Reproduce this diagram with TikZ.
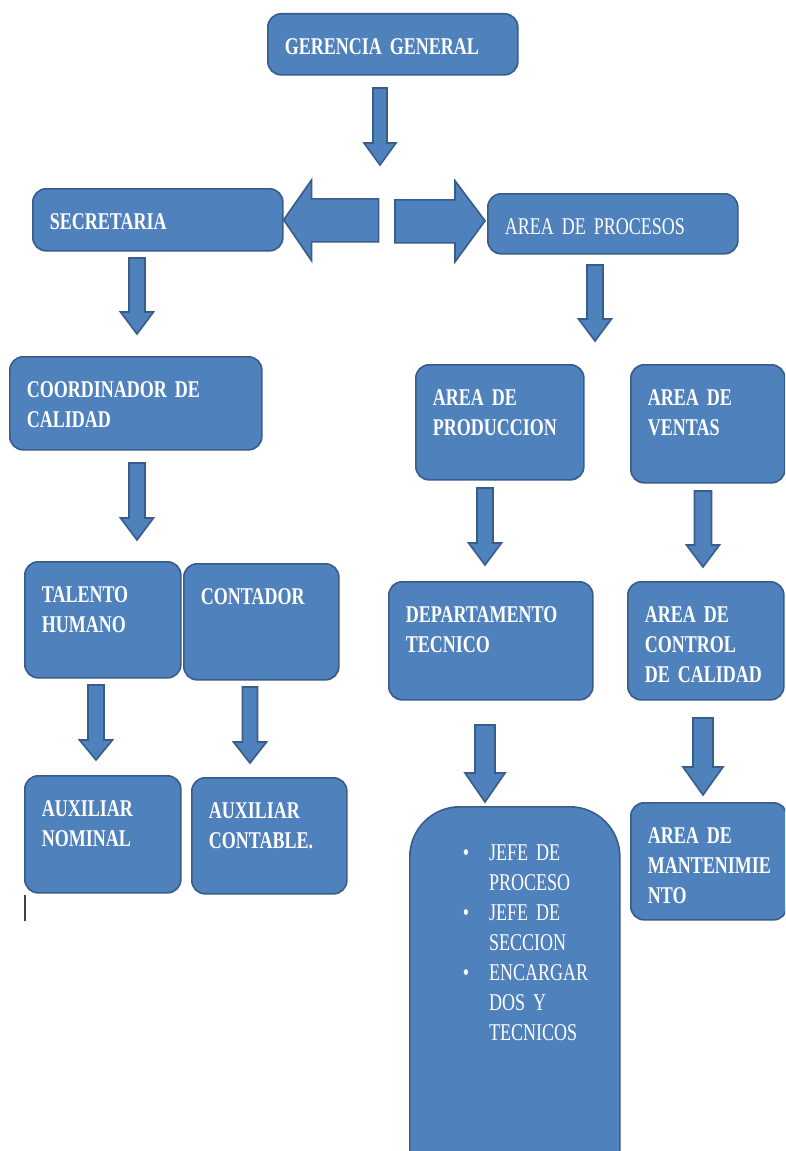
\documentclass[tikz,border=0pt]{standalone}
\usepackage{fontspec}
\setmainfont{Liberation Serif}[FakeStretch=0.75]
\usetikzlibrary{positioning}
\definecolor{BoxBlue}{HTML}{4F81BD}
\definecolor{BoxLine}{HTML}{385D8A}
\newcommand\orgfont{\fontsize{20.5pt}{25.6pt}\selectfont\spaceskip=0.19em plus 0.05em}
\tikzset{
  orgbox/.style={draw=BoxLine, line width=1.4pt, fill=BoxBlue, rounded corners=0.4cm, anchor=north west, text=white, align=left, inner xsep=0.51cm, inner ysep=0pt, text height=1.23cm, font=\orgfont\bfseries},
  blockarrow/.style={draw=BoxLine, line width=1.4pt, fill=BoxBlue, line join=miter}
}
\begin{document}
\begin{tikzpicture}[x=0.03cm,y=-0.03cm]
\useasboundingbox (0,0) rectangle (785,1151);
\fill[white] (0,0) rectangle (785,1151);
\clip (0,0) rectangle (785,1151);

% top level
\node[orgbox, text width=6.48cm, text depth=0.60cm] (gerencia) at (267,13) {GERENCIA GENERAL};
\node[orgbox, text width=6.48cm, text depth=0.63cm] (secretaria) at (32,188) {SECRETARIA};
\node[orgbox, text width=6.48cm, text depth=0.57cm, font=\orgfont\mdseries] (procesos) at (487,193) {AREA DE PROCESOS};

% left branch
\node[orgbox, text width=6.54cm, text depth=1.56cm] (coordinador) at (9,356) {COORDINADOR DE\\CALIDAD};
\node[orgbox, text width=3.66cm, text depth=2.25cm] (talento) at (24,561) {TALENTO\\HUMANO};
\node[orgbox, text width=3.63cm, text depth=2.25cm] (contador) at (183,563) {CONTADOR};
\node[orgbox, text width=3.66cm, text depth=2.28cm] (auxnominal) at (24,775) {AUXILIAR\\NOMINAL};
\node[orgbox, text width=3.63cm, text depth=2.25cm] (auxcontable) at (191,777) {AUXILIAR\\CONTABLE.};

% right branch
\node[orgbox, text width=4.02cm, text depth=2.22cm] (produccion) at (415,364) {AREA DE\\PRODUCCION};
\node[orgbox, text width=3.60cm, text depth=2.31cm] (ventas) at (630,364) {AREA DE\\VENTAS};
\node[orgbox, text width=5.10cm, text depth=2.31cm] (departamento) at (388,581) {DEPARTAMENTO\\TECNICO};
\node[orgbox, text width=3.66cm, text depth=2.31cm] (control) at (627,581) {AREA DE\\CONTROL\\DE CALIDAD};
\node[orgbox, text width=3.66cm, text depth=2.28cm] (mantenimiento) at (630,802) {AREA DE\\MANTENIMIE\\NTO};
\node[orgbox, text width=5.28cm, text height=1.62cm, text depth=10.38cm, rounded corners=1.5cm, font=\orgfont\mdseries] (cargos) at (409,806)
{\begin{tabular}[t]{@{\hspace{1.08cm}}c@{\hspace{0.6cm}}l@{}}
 \textbullet & JEFE DE\\ & PROCESO\\
 \textbullet & JEFE DE\\ & SECCION\\
 \textbullet & ENCARGAR\\ & DOS Y\\ & TECNICOS
 \end{tabular}};

% side arrows
\draw[blockarrow] (secretaria.east) -- ++(28,-40) -- ++(0,19) -- ++(67,0) -- ++(0,43) -- ++(-67,0) -- ++(0,19) -- cycle;
\draw[blockarrow] (procesos.west) ++(-2,-3) -- ++(-30,-40) -- ++(0,19) -- ++(-60,0) -- ++(0,43) -- ++(60,0) -- ++(0,19) -- cycle;

% down arrows
\foreach \x/\ya/\yb/\yc/\s/\h in {
380/88/143/165/7/16,
137/258/312/334/8/16.5,
595/265/319/341/8/16.5,
137/463/518/540/8/16.5,
485/488/543/565/8/16.5,
703/491/545/567/8.5/16.5,
96/685/740/760/8/16.5,
250/687/742/763/7.5/16.5,
485/725/773/802/10/20,
703/718/767/795/10/20}
{
  \draw[blockarrow] (\x-\s,\ya) -- (\x+\s,\ya) -- (\x+\s,\yb) -- (\x+\h,\yb) -- (\x,\yc) -- (\x-\h,\yb) -- (\x-\s,\yb) -- cycle;
}

\draw[line width=1.5pt, black!75] (25,895) -- (25,921);
\end{tikzpicture}
\end{document}
